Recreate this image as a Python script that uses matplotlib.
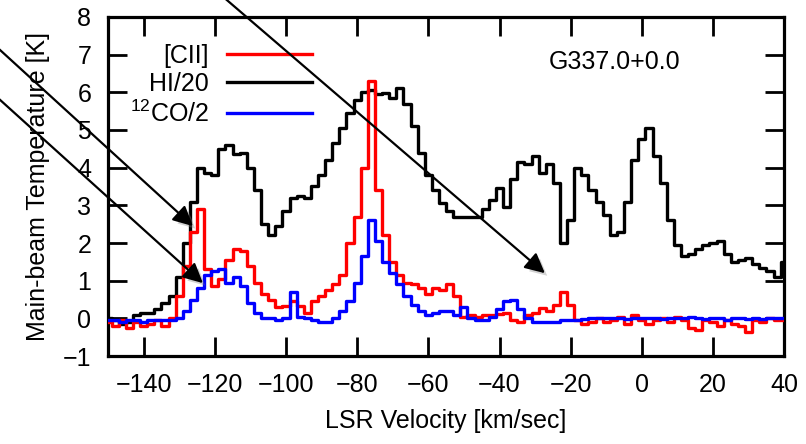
import numpy as np
import matplotlib
matplotlib.use('Agg')
import matplotlib.pyplot as plt
import matplotlib.patheffects as pe

plt.rcParams['font.family'] = ['Liberation Sans', 'DejaVu Sans']
plt.rcParams['mathtext.fontset'] = 'custom'
plt.rcParams['mathtext.rm'] = 'Liberation Sans'
plt.rcParams['mathtext.default'] = 'regular'

# channels, 2 km/s wide
velocity = np.arange(-150, 42, 2)

hi_20 = [0.0, -0.05, -0.15, -0.1, 0.1, 0.15, 0.15, 0.25, 0.4, 0.6,
         1.1, 2.0, 3.1, 4.0, 3.85, 3.8, 4.5, 4.6, 4.35, 4.4,
         4.0, 3.4, 2.5, 2.2, 2.45, 2.85, 3.2, 3.25, 3.2, 3.5,
         3.8, 4.2, 4.65, 5.05, 5.45, 5.8, 6.0, 6.05, 5.95, 5.98,
         5.85, 6.1, 5.7, 5.1, 4.4, 3.8, 3.4, 3.05, 2.85, 2.7,
         2.7, 2.68, 2.7, 2.9, 3.15, 3.45, 2.95, 3.7, 4.15, 4.1,
         4.3, 3.85, 4.1, 3.6, 2.0, 2.6, 4.0, 3.8, 3.4, 3.1,
         2.75, 2.2, 2.3, 3.1, 4.2, 4.75, 5.05, 4.3, 3.6, 2.6,
         1.95, 1.65, 1.7, 1.85, 1.95, 2.0, 2.05, 1.7, 1.5, 1.55,
         1.6, 1.45, 1.35, 1.25, 1.1, 1.5]

cii = [-0.1, -0.2, -0.05, -0.25, -0.1, -0.2, -0.15, -0.05, -0.2, 0.0,
       0.6, 1.4, 2.3, 2.9, 1.3, 0.85, 1.05, 1.55, 1.85, 1.8,
       1.4, 0.95, 0.65, 0.5, 0.3, 0.32, 0.45, 0.32, 0.15, 0.45,
       0.6, 0.75, 0.9, 1.15, 2.0, 2.7, 4.0, 6.3, 3.4, 2.2,
       1.5, 1.15, 0.95, 0.9, 0.8, 0.65, 0.8, 0.75, 0.92, 0.6,
       0.05, 0.1, 0.05, 0.08, 0.1, 0.12, 0.15, -0.05, -0.1, 0.1,
       0.15, 0.28, 0.2, 0.35, 0.7, 0.35, -0.05, -0.15, -0.1, 0.0,
       -0.1, -0.05, 0.05, -0.15, 0.1, -0.05, -0.15, -0.05, 0.0, -0.1,
       0.05, -0.05, -0.25, -0.3, -0.05, -0.1, -0.2, -0.05, -0.15, -0.2,
       -0.35, -0.05, -0.1, 0.0, -0.05, -0.05]

co_2 = [-0.05, -0.05, -0.1, -0.05, -0.05, -0.1, -0.05, -0.05, -0.05, -0.05,
        0.0, 0.2, 0.5, 0.8, 1.15, 1.25, 1.3, 0.95, 1.1, 0.85,
        0.4, 0.15, 0.02, 0.0, -0.05, 0.0, 0.7, 0.05, 0.0, -0.05,
        -0.1, -0.1, 0.0, 0.2, 0.45, 0.95, 1.65, 2.6, 2.05, 1.5,
        1.2, 0.9, 0.6, 0.35, 0.2, 0.1, 0.15, 0.2, 0.2, 0.1,
        0.3, 0.0, -0.05, -0.05, 0.05, 0.25, 0.45, 0.5, 0.25, 0.0,
        -0.1, -0.1, -0.1, -0.1, -0.05, -0.05, -0.03, -0.02, 0.0, 0.02,
        0.0, 0.02, 0.0, -0.02, 0.0, 0.02, 0.0, 0.0, -0.02, 0.0,
        0.02, 0.0, 0.03, 0.0, -0.02, 0.0, 0.0, -0.03, 0.0, 0.0,
        -0.02, 0.0, -0.02, 0.0, 0.0, 0.0]

x_ticks = [-140, -120, -100, -80, -60, -40, -20, 0, 20, 40]
y_ticks = [-1, 0, 1, 2, 3, 4, 5, 6, 7, 8]

# arrows (figure pixels, origin bottom-left): tail, head
arrows = [((214, 455), (547, 169)),
          ((-12, 405), (195, 216)),
          ((-12, 355), (205, 159))]

fig = plt.figure(figsize=(8.06, 4.44), dpi=100)
ax = fig.add_axes([0.134, 0.198, 0.839, 0.764])

lw = 2.4
ax.step(velocity, hi_20, where='mid', color='black', lw=lw, label='HI/20', zorder=2)
ax.step(velocity, cii, where='mid', color='red', lw=lw, label='[CII]', zorder=3)
ax.step(velocity, co_2, where='mid', color='blue', lw=lw, label='$^{12}$CO/2', zorder=4)

ax.set_xlim(-150, 40)
ax.set_ylim(-1, 8)
ax.set_xticks(x_ticks)
ax.set_yticks(y_ticks)
ax.tick_params(direction='in', length=14, width=2, labelsize=18, pad=12,
               top=True, right=True)
for s in ax.spines.values():
    s.set_linewidth(2.3)

ax.set_xlabel('LSR Velocity [km/sec]', fontsize=18, labelpad=9)
ax.set_ylabel('Main-beam Temperature [K]', fontsize=18, labelpad=9)

h, l = ax.get_legend_handles_labels()
order = [1, 0, 2]
ax.legend([h[i] for i in order], [l[i] for i in order], markerfirst=False,
          frameon=False, fontsize=18, loc='upper left',
          bbox_to_anchor=(0.01, 0.965), handlelength=3.4, handletextpad=0.7,
          labelspacing=0.17, borderaxespad=0.2)

ax.text(0.749, 0.867, 'G337.0+0.0', transform=ax.transAxes, fontsize=18,
        ha='center', va='center')

shadow = [pe.SimplePatchShadow(offset=(3, -3), shadow_rgbFace='gray', alpha=0.35), pe.Normal()]
for tail, head in arrows:
    fig.add_artist(matplotlib.patches.FancyArrowPatch(
        tail, head, transform=None, arrowstyle='-|>', mutation_scale=30,
        lw=1.6, color='black', path_effects=shadow, zorder=10))

fig.savefig('out.png', dpi=100)
